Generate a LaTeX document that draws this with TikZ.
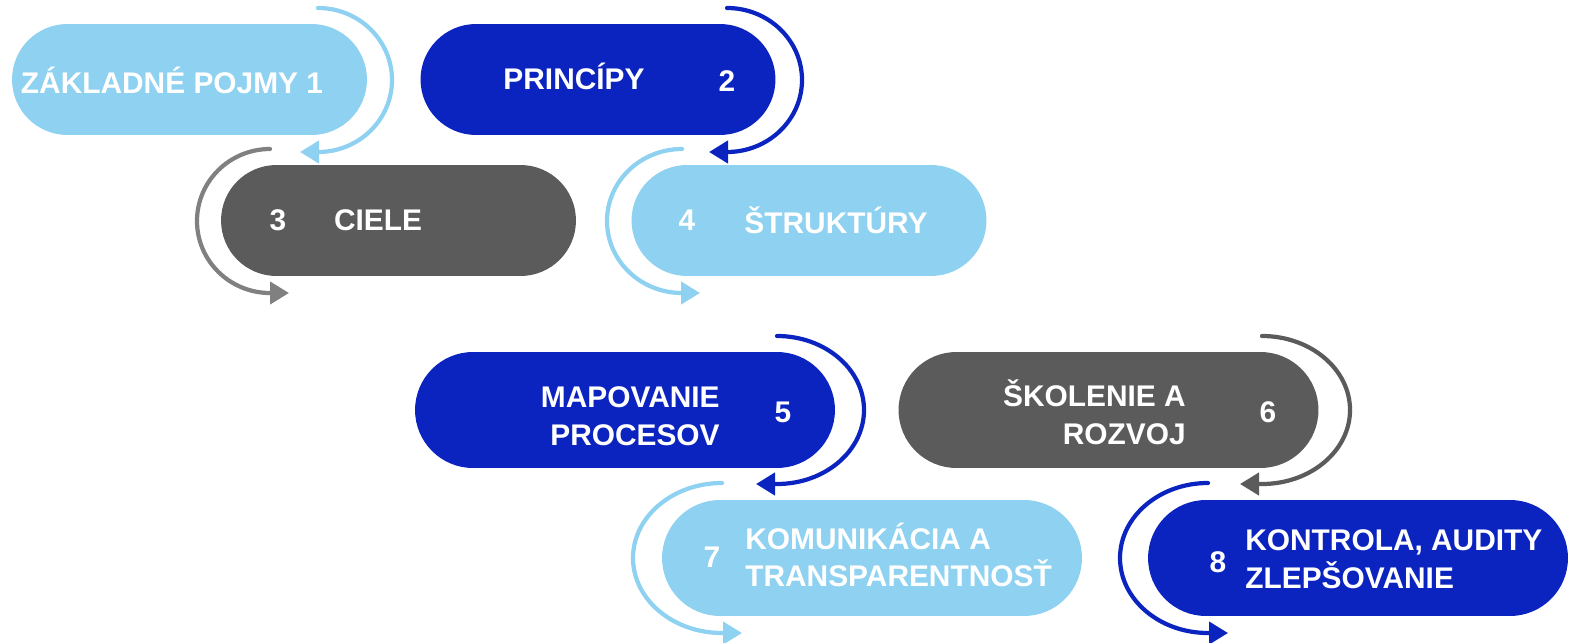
\documentclass[tikz,border=0pt]{standalone}
\usepackage{fontspec}
\setmainfont{Liberation Sans}
\usetikzlibrary{arrows.meta}
\definecolor{skyblue}{HTML}{8ED1F0}
\definecolor{royal}{HTML}{0B24C0}
\definecolor{slate}{HTML}{5B5B5B}
\definecolor{ash}{HTML}{808080}

\begin{document}
\begin{tikzpicture}[x=0.02cm,y=-0.02cm,
	pill/.style={rounded corners=1.11cm, minimum width=7.1cm, minimum height=2.22cm, inner sep=0pt},
	widepill/.style={rounded corners=1.16cm, minimum width=8.4cm, minimum height=2.32cm, inner sep=0pt},
	txt/.style={text=white, font=\bfseries\fontsize{17}{21.5}\selectfont, inner sep=0pt},
	loop/.style={line width=2.4pt, line cap=round, -{Triangle[length=0.38cm,width=0.44cm]}}]
	\useasboundingbox (0,0) rectangle (1571,642);
	
	% upper row
	\node[pill, fill=skyblue] (p1) at (189.5,79.5) {};
	\node[pill, fill=royal] (p2) at (598,79.5) {};
	\node[pill, fill=slate] (p3) at (398.5,220.5) {};
	\node[pill, fill=skyblue] (p4) at (809,220.5) {};
	
	\node[txt] (t1) at (172,80) {ZÁKLADNÉ POJMY 1};
	\node[txt] (t2) at (574,76) {PRINCÍPY};
	\node[txt] (n2) at (727,81) {2};
	\node[txt] (n3) at (278,220) {3};
	\node[txt] (t3) at (378,220) {CIELE};
	\node[txt] (n4) at (687,220) {4};
	\node[txt] (t4) at (836,220) {ŠTRUKTÚRY};
	
	% lower row
	\node[widepill, fill=royal] (p5) at (625,410) {};
	\node[widepill, fill=slate] (p6) at (1108.5,410) {};
	\node[widepill, fill=skyblue] (p7) at (872,558) {};
	\node[widepill, fill=royal] (p8) at (1358,558) {};
	
	\node[txt, anchor=east, align=right] (t5) at (720,416) {MAPOVANIE\\PROCESOV};
	\node[txt] (n5) at (783,412) {5};
	\node[txt, anchor=east, align=right] (t6) at (1186,412) {ŠKOLENIE A\\ROZVOJ};
	\node[txt] (n6) at (1268,412) {6};
	\node[txt] (n7) at (712,557) {7};
	\node[txt, anchor=west, align=left] (t7) at (745,555) {KOMUNIKÁCIA A\\TRANSPARENTNOSŤ};
	\node[txt] (n8) at (1218,562) {8};
	\node[txt, anchor=west, align=left] (t8) at (1245,559) {KONTROLA, AUDITY\\ZLEPŠOVANIE};
	
	% loop arrows
	\coordinate (s1) at (318,8);    \coordinate (e1) at (300,152);
	\coordinate (s2) at (727,8);    \coordinate (e2) at (709,152);
	\coordinate (s3) at (270,149);  \coordinate (e3) at (289,293);
	\coordinate (s4) at (682,149);  \coordinate (e4) at (700,293);
	\coordinate (s5) at (777,336);  \coordinate (e5) at (756,484);
	\coordinate (s6) at (1262,336); \coordinate (e6) at (1240,484);
	\coordinate (s7) at (722,483);  \coordinate (e7) at (742,633);
	\coordinate (s8) at (1208,483); \coordinate (e8) at (1228,633);
	
	\draw[loop, skyblue] (s1) arc[start angle=-90, end angle=90, x radius=74, y radius=72] -- (e1);
	\draw[loop, royal] (s2) arc[start angle=-90, end angle=90, x radius=75, y radius=72] -- (e2);
	\draw[loop, ash] (s3) arc[start angle=-90, end angle=-270, x radius=73, y radius=72] -- (e3);
	\draw[loop, skyblue] (s4) arc[start angle=-90, end angle=-270, x radius=75, y radius=72] -- (e4);
	\draw[loop, royal] (s5) arc[start angle=-90, end angle=90, x radius=87, y radius=74] -- (e5);
	\draw[loop, slate] (s6) arc[start angle=-90, end angle=90, x radius=88, y radius=74] -- (e6);
	\draw[loop, skyblue] (s7) arc[start angle=-90, end angle=-270, x radius=89, y radius=75] -- (e7);
	\draw[loop, royal] (s8) arc[start angle=-90, end angle=-270, x radius=88, y radius=75] -- (e8);
	
\end{tikzpicture}
\end{document}
